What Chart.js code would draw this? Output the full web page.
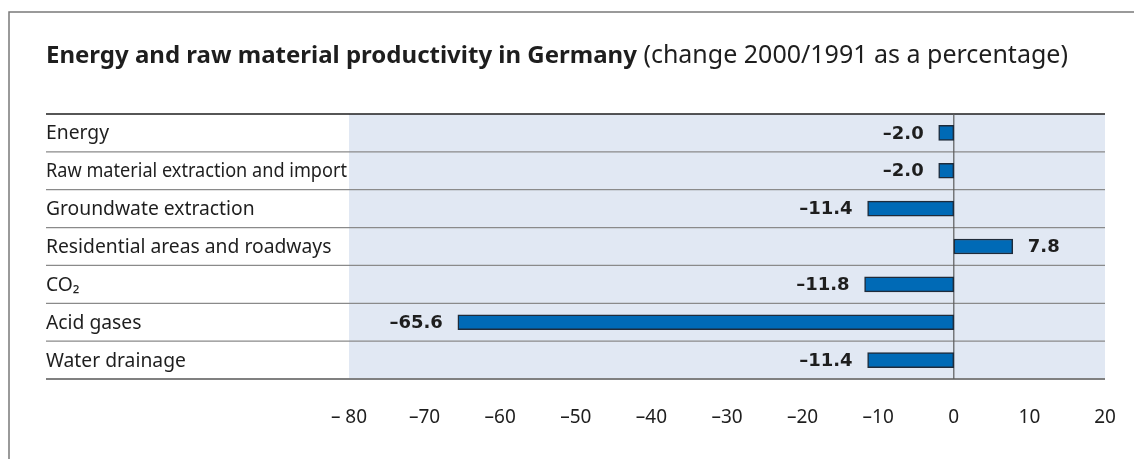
<!DOCTYPE html>
<html>
<head>
<meta charset="utf-8">
<script src="https://cdn.jsdelivr.net/npm/chart.js@4.4.1/dist/chart.umd.min.js"></script>
<style>
  body { margin: 0; background: #fff; }
  canvas { display: block; }
</style>
</head>
<body>
<canvas id="grafico" width="1134" height="459"></canvas>
<script>
let categorias = [
  "Energy",
  "Raw material extraction and import",
  "Groundwate extraction",
  "Residential areas and roadways",
  "CO\u2082",
  "Acid gases",
  "Water drainage"
];
let valores = [-2.0, -2.0, -11.4, 7.8, -11.8, -65.6, -11.4];
let rotulosEixo = ["\u2013 80", "\u201370", "\u201360", "\u201350", "\u201340", "\u201330", "\u201320", "\u201310", "0", "10", "20"];

let fonte = "'Noto Sans', 'Open Sans', sans-serif";

let fundoPlugin = {
  id: "fundo",
  beforeDraw(chart) {
    let ctx = chart.ctx;
    let area = chart.chartArea;
    ctx.save();
    ctx.fillStyle = "#fff";
    ctx.fillRect(0, 0, chart.width, chart.height);

    // moldura
    ctx.strokeStyle = "#7a7a7a";
    ctx.lineWidth = 1.5;
    ctx.beginPath();
    ctx.moveTo(9, chart.height);
    ctx.lineTo(9, 12);
    ctx.lineTo(chart.width + 5, 12);
    ctx.stroke();

    // titulo
    ctx.textBaseline = "middle";
    ctx.fillStyle = "#1e1e1e";
    ctx.font = "bold 24px " + fonte;
    let t1 = "Energy and raw material productivity in Germany";
    ctx.fillText(t1, 46, 56, 597);
    let w = Math.min(ctx.measureText(t1).width, 597);
    ctx.font = "25px " + fonte;
    ctx.fillText(" (change 2000/1991 as a percentage)", 46 + w, 56, 435);

    // area sombreada
    ctx.fillStyle = "#e1e8f3";
    ctx.fillRect(area.left, area.top, area.right - area.left, area.bottom - area.top);
    ctx.restore();
  },
  beforeDatasetsDraw(chart) {
    let ctx = chart.ctx;
    let area = chart.chartArea;
    let x = chart.scales.x;
    let y = chart.scales.y;
    let passo = (area.bottom - area.top) / categorias.length;
    ctx.save();

    // linhas das linhas
    for (let i = 0; i <= categorias.length; i++) {
      let yy = area.top + i * passo;
      ctx.beginPath();
      if (i === 0) {
        ctx.strokeStyle = "#1e1e1e";
        ctx.lineWidth = 1.5;
      } else if (i === categorias.length) {
        ctx.strokeStyle = "#808080";
        ctx.lineWidth = 2;
      } else {
        ctx.strokeStyle = "#8a8a8a";
        ctx.lineWidth = 1.2;
      }
      ctx.moveTo(46, yy);
      ctx.lineTo(area.right, yy);
      ctx.stroke();
    }

    // linha do zero
    let x0 = x.getPixelForValue(0);
    ctx.strokeStyle = "#5a5a5a";
    ctx.lineWidth = 1.2;
    ctx.beginPath();
    ctx.moveTo(x0, area.top);
    ctx.lineTo(x0, area.bottom);
    ctx.stroke();

    // categorias
    ctx.fillStyle = "#1e1e1e";
    ctx.font = "19.3px " + fonte;
    ctx.textBaseline = "middle";
    categorias.forEach((c, i) => {
      ctx.fillText(c, 46, y.getPixelForValue(i) + 1, 301);
    });
    ctx.restore();
  },
  afterDatasetsDraw(chart) {
    let ctx = chart.ctx;
    let meta = chart.getDatasetMeta(0);
    ctx.save();
    ctx.fillStyle = "#1e1e1e";
    ctx.font = "bold 18px 'DejaVu Sans', sans-serif";
    ctx.textBaseline = "middle";
    meta.data.forEach((bar, i) => {
      let v = valores[i];
      let txt = (v < 0 ? "\u2013" : "") + Math.abs(v).toFixed(1);
      if (v < 0) {
        ctx.textAlign = "right";
        ctx.fillText(txt, bar.x - 15, bar.y + 1);
      } else {
        ctx.textAlign = "left";
        ctx.fillText(txt, bar.x + 15, bar.y + 1);
      }
    });
    ctx.restore();
  }
};

new Chart(document.getElementById("grafico"), {
  type: "bar",
  data: {
    labels: categorias,
    datasets: [{
      data: valores,
      backgroundColor: "#006ab6",
      borderColor: "#1f2b3a",
      borderWidth: 1.5,
      borderSkipped: false,
      barThickness: 15
    }]
  },
  options: {
    indexAxis: "y",
    responsive: false,
    animation: false,
    devicePixelRatio: 1,
    layout: { padding: { left: 349, right: 29, top: 114, bottom: 0 } },
    plugins: {
      legend: { display: false },
      tooltip: { enabled: false }
    },
    scales: {
      x: {
        min: -80,
        max: 20,
        afterFit(scale) {
          scale.height = 80;
          scale.paddingLeft = 0;
          scale.paddingRight = 0;
        },
        grid: { display: false, drawTicks: false },
        border: { display: false },
        ticks: {
          stepSize: 10,
          padding: 27,
          color: "#1e1e1e",
          font: { family: fonte, size: 19 },
          callback: (v, i) => rotulosEixo[i]
        }
      },
      y: {
        display: false
      }
    }
  },
  plugins: [fundoPlugin]
});
</script>
</body>
</html>
